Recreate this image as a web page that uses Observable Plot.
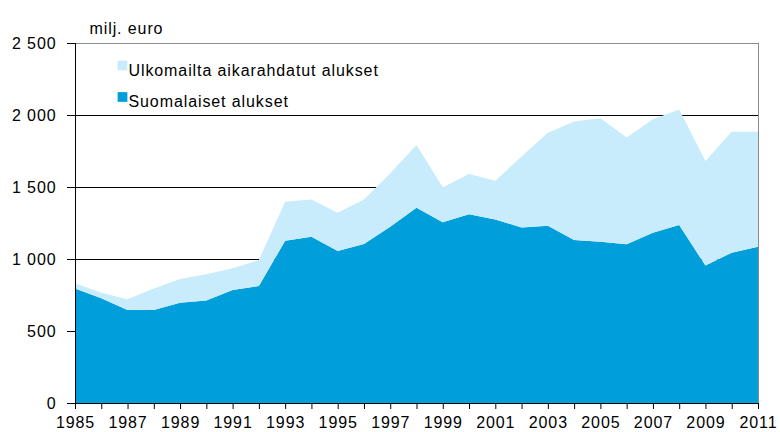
<!DOCTYPE html>
<html>
<head>
<meta charset="utf-8">
<script src="https://cdn.jsdelivr.net/npm/d3@7"></script>
<script src="https://cdn.jsdelivr.net/npm/@observablehq/plot@0.6"></script>
<style>
  html, body { margin: 0; padding: 0; background: #fff; }
  #chart svg { display: block; }
</style>
</head>
<body>
<div id="chart"></div>
<script>
const years = d3.range(1985, 2012);
const seriesNames = ["Suomalaiset alukset", "Ulkomailta aikarahdatut alukset"];
const seriesColors = ["#009edb", "#c8ecfb"];
// Suomalaiset alukset (milj. euro)
const suomalaiset = [796, 727, 646, 646, 697, 711, 785, 812, 1127, 1155, 1056, 1104, 1224, 1356, 1255, 1310, 1275, 1218, 1231, 1132, 1120, 1102, 1183, 1236, 954, 1044, 1085];
// Ulkomailta aikarahdatut alukset (milj. euro)
const ulkomailta = [35, 39, 74, 150, 164, 183, 150, 181, 271, 259, 266, 310, 371, 436, 243, 280, 269, 493, 646, 822, 857, 741, 787, 803, 727, 840, 799];
const yTicks = [0, 500, 1000, 1500, 2000, 2500];
const gridValues = [500, 1000, 1500, 2000];
const unitLabel = "milj. euro";

const rows = [];
years.forEach((yr, i) => {
  rows.push({year: yr, series: seriesNames[0], value: suomalaiset[i]});
  rows.push({year: yr, series: seriesNames[1], value: ulkomailta[i]});
});

const fmt = d => d3.format(",")(d).replace(/,/g, " ");
const font = "'Liberation Sans', Arial, sans-serif";

const chart = Plot.plot({
  width: 780,
  height: 432,
  marginLeft: 75,
  marginRight: 22,
  marginTop: 43,
  marginBottom: 29,
  style: {fontFamily: font, fontSize: "16px", color: "#000", background: "#fff", letterSpacing: "0.9px", overflow: "visible"},
  x: {domain: [1985, 2011]},
  y: {domain: [0, 2500]},
  color: {domain: seriesNames, range: seriesColors},
  marks: [
    Plot.ruleY(gridValues, {stroke: "#000", strokeWidth: 1}),
    Plot.ruleY([2500], {stroke: "#8c8c8c", strokeWidth: 1}),
    Plot.ruleX([2011], {stroke: "#8c8c8c", strokeWidth: 1}),
    Plot.areaY(rows, {x: "year", y: "value", fill: "series", order: seriesNames}),
    Plot.ruleX([1985], {stroke: "#000", strokeWidth: 1}),
    Plot.ruleY([0], {stroke: "#000", strokeWidth: 1}),
    Plot.axisY({ticks: yTicks, tickFormat: fmt, tickSize: 8, tickPadding: 11, label: null, stroke: "#000", fill: "#000", strokeOpacity: 1}),
    Plot.axisX({ticks: years, tickFormat: d => (d % 2 ? String(d) : ""), tickSize: 6, tickPadding: 7, label: null, stroke: "#000", fill: "#000", strokeOpacity: 1}),
    Plot.text([unitLabel], {text: d => d, frameAnchor: "top-left", textAnchor: "start", dx: 14, dy: -21, fill: "#000"}),
    Plot.dot([seriesNames[1]], {frameAnchor: "top-left", dx: 47, dy: 22, symbol: "square", r: 5.5, fill: seriesColors[1], stroke: "none"}),
    Plot.text([seriesNames[1]], {text: d => d, frameAnchor: "top-left", textAnchor: "start", dx: 53, dy: 21, fill: "#000"}),
    Plot.dot([seriesNames[0]], {frameAnchor: "top-left", dx: 47, dy: 53.5, symbol: "square", r: 5.5, fill: seriesColors[0], stroke: "none"}),
    Plot.text([seriesNames[0]], {text: d => d, frameAnchor: "top-left", textAnchor: "start", dx: 53, dy: 52, fill: "#000"})
  ]
});
document.getElementById("chart").appendChild(chart);
</script>
</body>
</html>
